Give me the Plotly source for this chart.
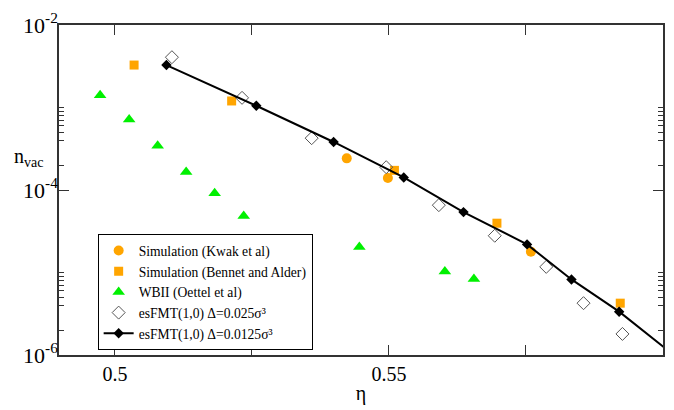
import plotly.graph_objects as go

# Data
kwak_x = [0.5423, 0.5498, 0.5759]
kwak_y = [2.42e-4, 1.40e-4, 1.79e-5]

bennet_x = [0.5035, 0.5213, 0.5510, 0.5697, 0.5922]
bennet_y = [3.27e-3, 1.20e-3, 1.73e-4, 3.96e-5, 4.25e-6]

wbii_x = [0.4973, 0.5026, 0.5078, 0.5130, 0.5182, 0.5235, 0.5446, 0.5602, 0.5655]
wbii_y = [1.41e-3, 7.15e-4, 3.44e-4, 1.65e-4, 9.16e-5, 4.85e-5, 2.04e-5, 1.03e-5, 8.32e-6]

es025_x = [0.5104, 0.5232, 0.5359, 0.5495, 0.5591, 0.5693, 0.5787, 0.5855, 0.5926]
es025_y = [4.07e-3, 1.31e-3, 4.25e-4, 1.89e-4, 6.55e-5, 2.79e-5, 1.17e-5, 4.25e-6, 1.80e-6]

es0125_x = [0.5094, 0.5258, 0.5399, 0.5527, 0.5636, 0.5752, 0.5833, 0.5920, 0.6010]
es0125_y = [3.27e-3, 1.05e-3, 3.82e-4, 1.42e-4, 5.40e-5, 2.19e-5, 8.24e-6, 3.35e-6, 1.12e-6]

x_tickvals = [0.5, 0.525, 0.55, 0.575]
x_ticktext = ["0.5", "", "0.55", ""]
y_tickvals = [1e-6, 1e-4, 1e-2]
y_ticktext = ["10<sup>-6</sup>", "10<sup>-4</sup>", "10<sup>-2</sup>"]
y_minor = [1e-3, 9e-4, 8e-4, 7e-4, 6e-4, 5e-4, 4e-4, 2e-4,
           1e-5, 9e-6, 8e-6, 7e-6, 6e-6, 5e-6, 4e-6, 2e-6]

ORANGE = "#FFA500"
GREEN = "#00F000"
SERIF = "Liberation Serif"

fig = go.Figure()
fig.add_trace(go.Scatter(x=kwak_x, y=kwak_y, mode="markers", name="Simulation (Kwak et al)",
                         marker=dict(symbol="circle", size=10, color=ORANGE)))
fig.add_trace(go.Scatter(x=bennet_x, y=bennet_y, mode="markers", name="Simulation (Bennet and Alder)",
                         marker=dict(symbol="square", size=9, color=ORANGE)))
fig.add_trace(go.Scatter(x=wbii_x, y=wbii_y, mode="markers", name="WBII (Oettel et al)",
                         marker=dict(symbol="triangle-up", size=11, color=GREEN)))
fig.add_trace(go.Scatter(x=es025_x, y=es025_y, mode="markers", name="esFMT(1,0) Δ=0.025σ³",
                         marker=dict(symbol="diamond-open", size=10, color="#555555", line=dict(width=1))))
fig.add_trace(go.Scatter(x=es0125_x, y=es0125_y, mode="lines+markers", name="esFMT(1,0) Δ=0.0125σ³",
                         line=dict(color="black", width=2),
                         marker=dict(symbol="diamond", size=8, color="black")))

axis_common = dict(showline=True, linecolor="#333333", linewidth=1.5, mirror="allticks",
                   ticks="inside", tickcolor="#333333", showgrid=False, zeroline=False)

fig.update_xaxes(range=[0.4898, 0.6], tickvals=x_tickvals, ticktext=x_ticktext, ticklen=10,
                 tickfont=dict(family=SERIF, size=20, color="black"),
                 title=dict(text="η", font=dict(family=SERIF, size=20, color="black"), standoff=2),
                 **axis_common)
fig.update_yaxes(type="log", range=[-6, -2], tickvals=y_tickvals, ticktext=y_ticktext, ticklen=10,
                 tickfont=dict(family=SERIF, size=22, color="black"), ticklabelstandoff=-5,
                 minor=dict(tickvals=y_minor, ticks="inside", ticklen=5, tickcolor="#333333", showgrid=False),
                 **axis_common)

fig.add_annotation(text="n<sub>vac</sub>", xref="paper", yref="paper", x=-0.05, y=0.60,
                   showarrow=False, xanchor="center", yanchor="middle",
                   font=dict(family=SERIF, size=20, color="black"))

fig.update_layout(width=674, height=410, margin=dict(l=59, r=9, t=16, b=46),
                  plot_bgcolor="white", paper_bgcolor="white",
                  legend=dict(x=0.064, y=0.366, xanchor="left", yanchor="top",
                              bordercolor="black", borderwidth=1, bgcolor="white",
                              font=dict(family=SERIF, size=13.6, color="black"),
                              tracegroupgap=0, itemwidth=30))

fig.write_html("out.html")
